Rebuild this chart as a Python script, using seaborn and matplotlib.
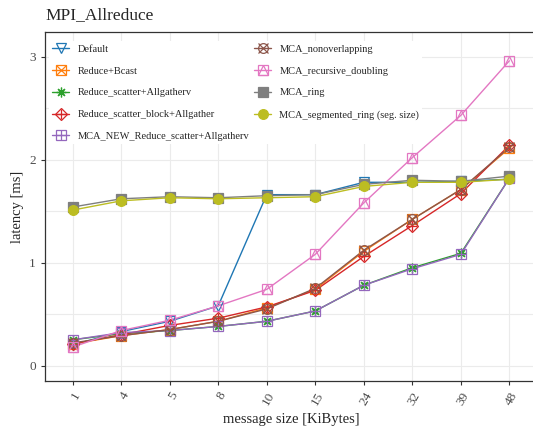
import matplotlib
matplotlib.use("Agg")
import matplotlib.pyplot as plt
from matplotlib.lines import Line2D
from matplotlib.legend_handler import HandlerTuple
from matplotlib.ticker import MultipleLocator
import numpy as np
import pandas as pd
import seaborn as sns

# message sizes (categorical x axis)
SIZES = ["1", "4", "5", "8", "10", "15", "24", "32", "39", "48"]

default = [0.20, 0.33, 0.43, 0.58, 1.66, 1.66, 1.78, 1.78, 1.79, 1.81]
reduce_bcast = [0.21, 0.29, 0.35, 0.43, 0.56, 0.74, 1.11, 1.42, 1.71, 2.11]
rs_allgatherv = [0.25, 0.31, 0.34, 0.38, 0.43, 0.53, 0.78, 0.95, 1.09, 1.82]
rsb_allgather = [0.21, 0.30, 0.39, 0.46, 0.57, 0.73, 1.06, 1.36, 1.67, 2.14]
mca_new_rs = [0.25, 0.32, 0.34, 0.38, 0.43, 0.53, 0.78, 0.94, 1.08, 1.82]
mca_nonoverlap = [0.22, 0.29, 0.35, 0.43, 0.55, 0.75, 1.12, 1.42, 1.71, 2.12]
mca_recdoubling = [0.18, 0.34, 0.44, 0.58, 0.74, 1.08, 1.58, 2.02, 2.43, 2.96]
mca_ring = [1.54, 1.62, 1.64, 1.63, 1.65, 1.66, 1.76, 1.80, 1.79, 1.84]
mca_segring = [1.51, 1.60, 1.63, 1.62, 1.63, 1.64, 1.74, 1.78, 1.78, 1.81]

LABELS = [
    "Default",
    "Reduce+Bcast",
    "Reduce_scatter+Allgatherv",
    "Reduce_scatter_block+Allgather",
    "MCA_NEW_Reduce_scatter+Allgatherv",
    "MCA_nonoverlapping",
    "MCA_recursive_doubling",
    "MCA_ring",
    "MCA_segmented_ring (seg. size)",
]
SERIES = [default, reduce_bcast, rs_allgatherv, rsb_allgather, mca_new_rs,
          mca_nonoverlap, mca_recdoubling, mca_ring, mca_segring]
COLORS = ["#1f77b4", "#ff7f0e", "#2ca02c", "#d62728", "#9467bd",
          "#8c564b", "#e377c2", "#7f7f7f", "#bcbd22"]
# (marker, filled) layers per series, mimicking ggplot composite shapes
MARKERS = [
    [("v", False)],
    [("s", False), ("x", False)],
    [((8, 2, 0), False)],
    [("D", False), ("+", False)],
    [("s", False), ("+", False)],
    [("o", False), ("x", False)],
    [("s", False), ("^", False)],
    [("s", True)],
    [("o", True)],
]

rows = []
for label, vals in zip(LABELS, SERIES):
    for i, v in enumerate(vals):
        rows.append({"algo": label, "pos": i, "latency": v})
df = pd.DataFrame(rows)

sns.set_style("white")
plt.rcParams["font.family"] = ["Liberation Serif", "DejaVu Serif"]

W, H = 533, 429
fig = plt.figure(figsize=(W / 100, H / 100), dpi=100)
# panel: left 45px, top 32px, bottom 381px, right edge runs just past the image
ax = fig.add_axes([45 / W, 1 - 381 / H, (537 - 45) / W, (381 - 32) / H])

palette = dict(zip(LABELS, COLORS))
sns.lineplot(data=df, x="pos", y="latency", hue="algo", hue_order=LABELS,
             palette=palette, linewidth=1.0, legend=False, ax=ax)

handles = []
for label, vals, color, layers in zip(LABELS, SERIES, COLORS, MARKERS):
    parts = [Line2D([], [], color=color, linewidth=1.0)]
    for marker, filled in layers:
        size = 7 if marker not in ("D",) else 6
        ax.plot(range(len(vals)), vals, linestyle="none", marker=marker,
                markersize=size, markeredgecolor=color, markeredgewidth=0.9,
                markerfacecolor=color if filled else "none", zorder=3)
        parts.append(Line2D([], [], linestyle="none", marker=marker, markersize=size,
                            markeredgecolor=color, markeredgewidth=0.9,
                            markerfacecolor=color if filled else "none"))
    handles.append(tuple(parts))

ax.set_xlim(-0.57, 9.57)
ax.set_ylim(-0.15, 3.24)
ax.set_xticks(range(len(SIZES)))
ax.set_xticklabels(SIZES, rotation=60, ha="right", rotation_mode="anchor")
ax.yaxis.set_major_locator(MultipleLocator(1))
ax.yaxis.set_minor_locator(MultipleLocator(0.5))
ax.tick_params(axis="both", which="major", labelsize=9.5, length=3, color="#333333",
               labelcolor="#4d4d4d", left=True, bottom=True)
ax.tick_params(axis="y", which="minor", length=0)
ax.grid(True, which="both", color="#ebebeb", linewidth=0.8)
ax.set_axisbelow(True)
for side in ["left", "bottom", "top", "right"]:
    ax.spines[side].set_color("#333333")
    ax.spines[side].set_linewidth(0.9)

ax.set_xlabel("message size [KiBytes]", fontsize=10.5)
ax.set_ylabel("latency [ms]", fontsize=10.5)
fig.text(45 / W, 1 - 15 / H, "MPI_Allreduce", fontsize=12.5, ha="left", va="center")

leg = ax.legend(handles, LABELS, handler_map={tuple: HandlerTuple(ndivide=1)},
                loc="upper left", bbox_to_anchor=(0.0, 0.985), ncol=2, fontsize=7.5,
                frameon=True, labelspacing=1.2, handlelength=1.6, columnspacing=0.5,
                borderaxespad=0.4, borderpad=0.3)
leg.get_frame().set_facecolor("white")
leg.get_frame().set_edgecolor("none")
leg.get_frame().set_alpha(1)

fig.savefig("out.png", dpi=100)
